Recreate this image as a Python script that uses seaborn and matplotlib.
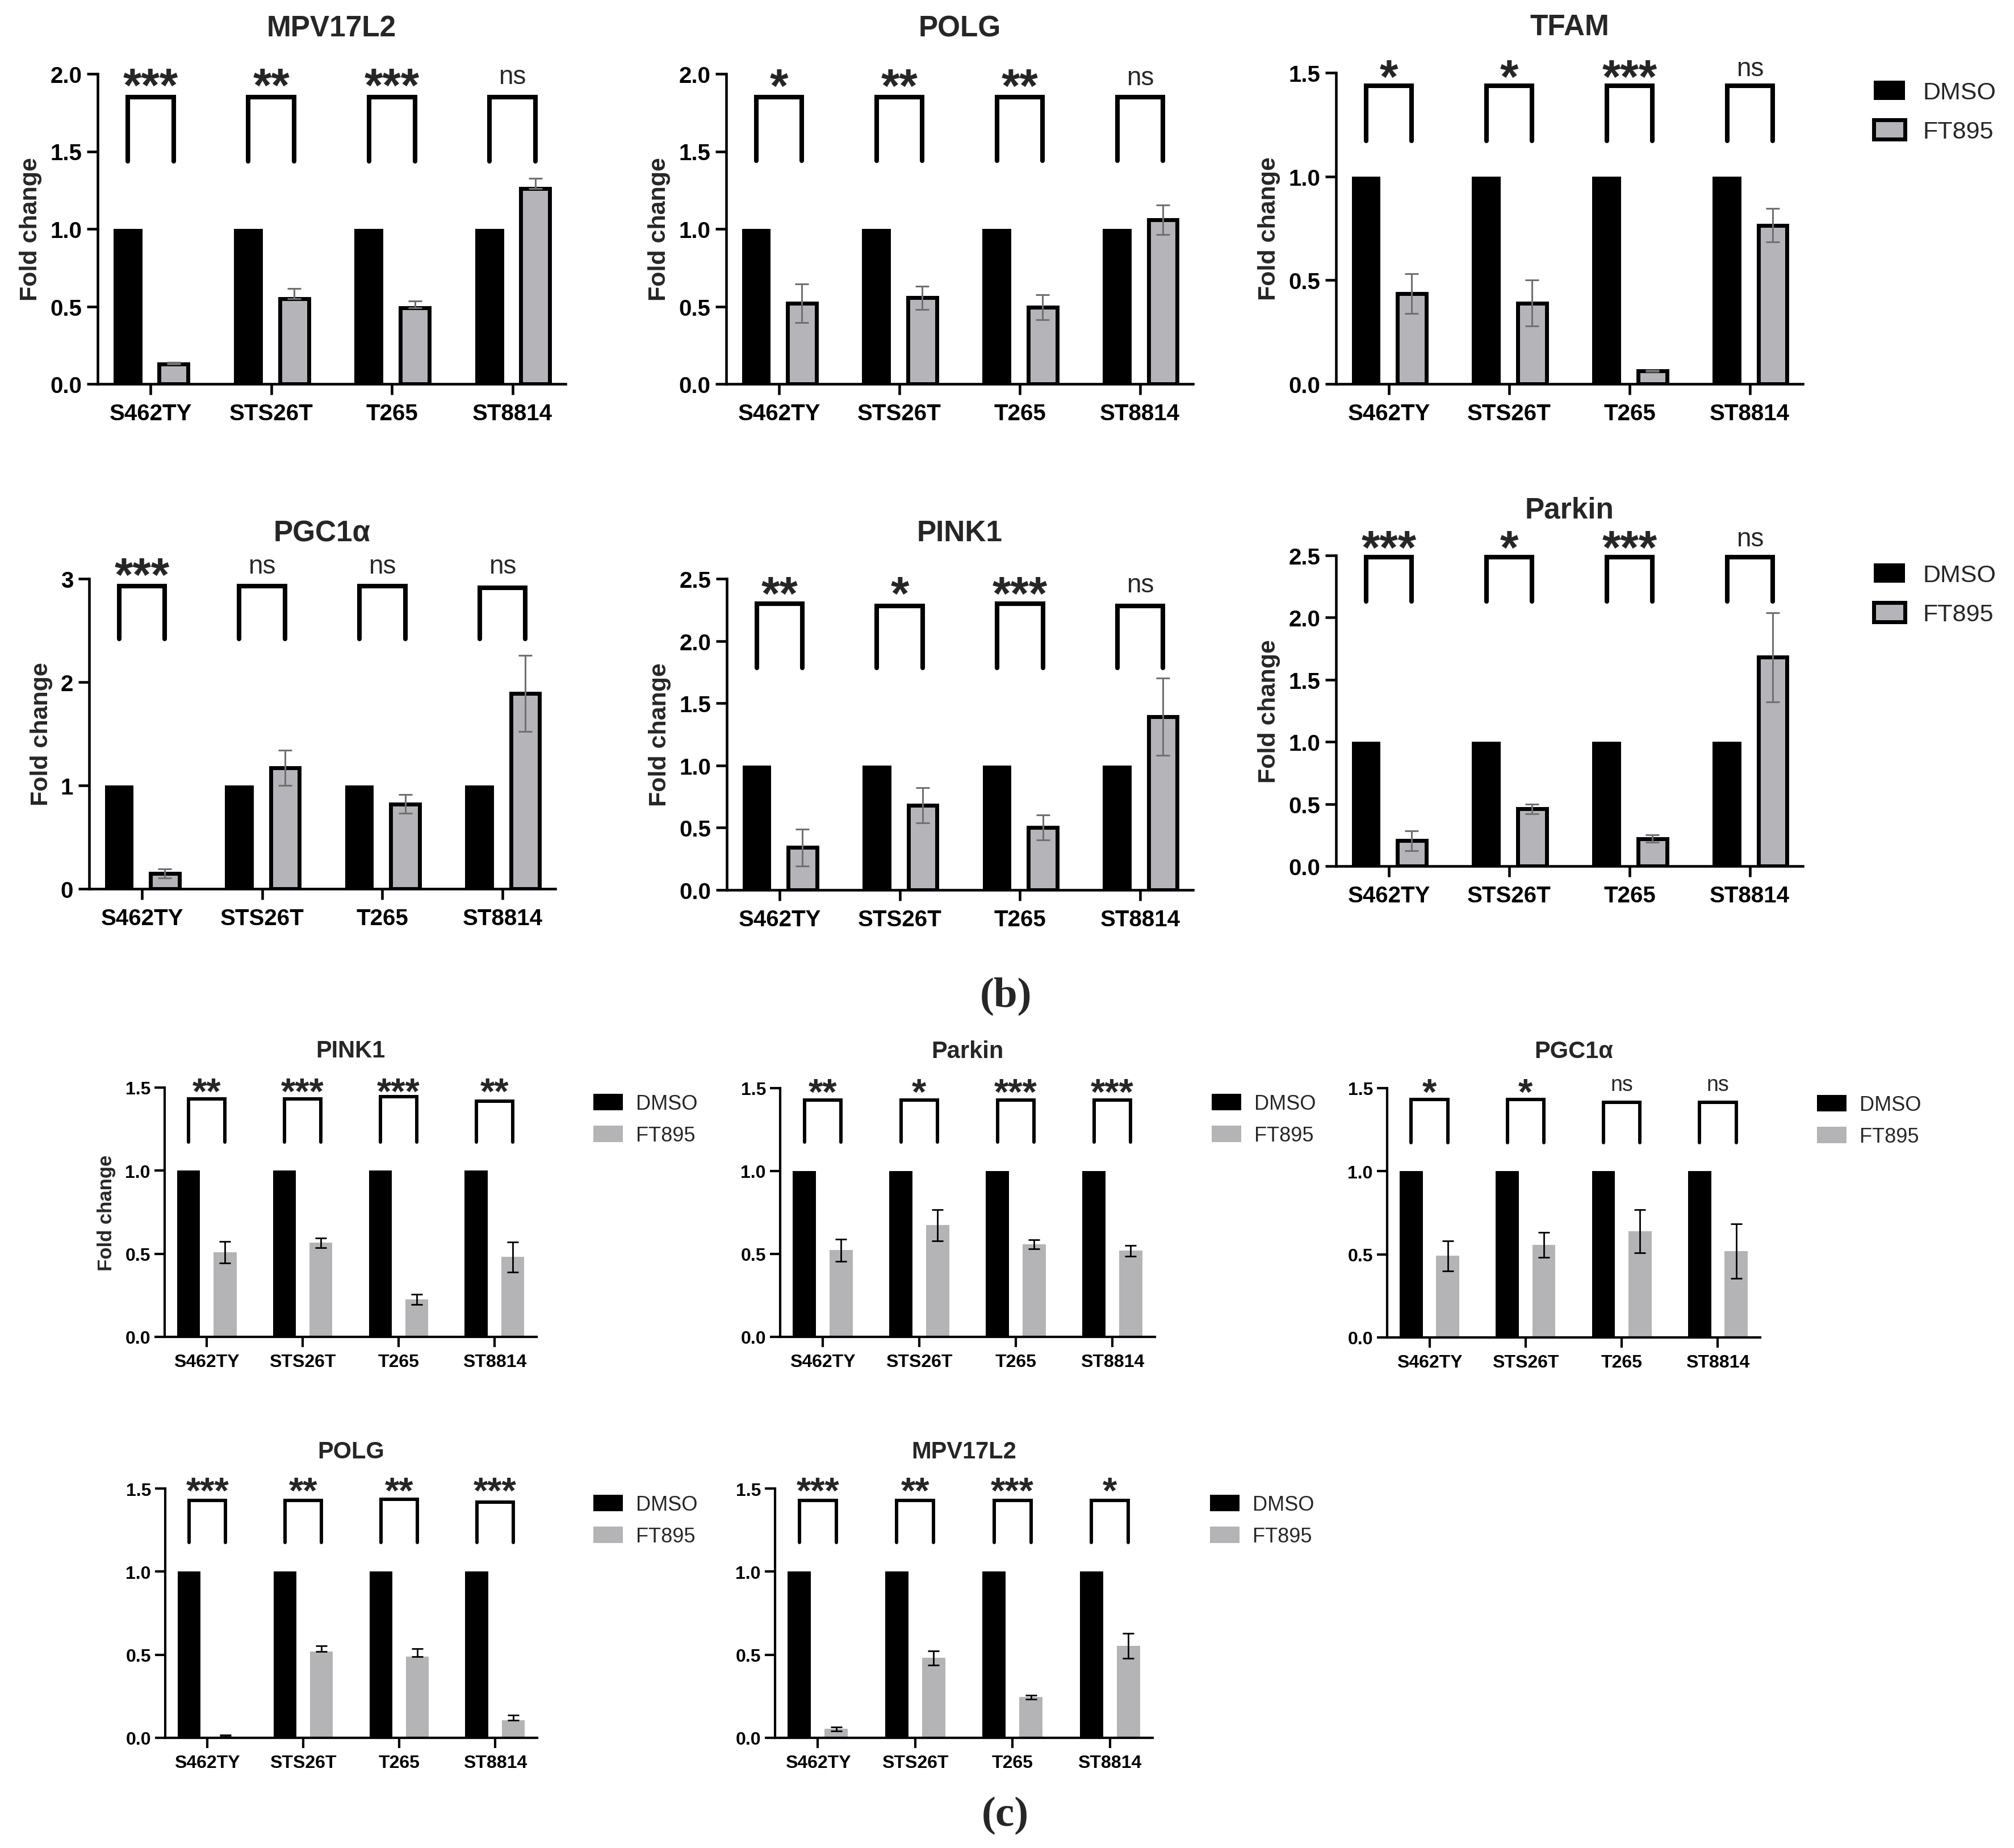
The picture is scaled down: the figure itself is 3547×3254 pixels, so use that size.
import numpy as np
import pandas as pd
import matplotlib
matplotlib.use("Agg")
import matplotlib.pyplot as plt
import matplotlib.transforms as mtransforms
from matplotlib.patches import Patch
import seaborn as sns

# ---------------- data ----------------
cells = ["S462TY", "STS26T", "T265", "ST8814"]
groups = ["DMSO", "FT895"]
dmso = [1.0, 1.0, 1.0, 1.0]

# panel (b)
b_mpv_ft = [0.13, 0.55, 0.49, 1.26]
b_mpv_lo = [0.0, 0.0, 0.0, 0.0]
b_mpv_hi = [0.01, 0.065, 0.045, 0.065]
b_mpv_sig = ["***", "**", "***", "ns"]

b_polg_ft = [0.52, 0.555, 0.495, 1.06]
b_polg_lo = [0.125, 0.075, 0.08, 0.095]
b_polg_hi = [0.125, 0.075, 0.08, 0.095]
b_polg_sig = ["*", "**", "**", "ns"]

b_tfam_ft = [0.435, 0.39, 0.063, 0.765]
b_tfam_lo = [0.095, 0.11, 0.004, 0.08]
b_tfam_hi = [0.095, 0.11, 0.004, 0.08]
b_tfam_sig = ["*", "*", "***", "ns"]

b_pgc_ft = [0.15, 1.17, 0.82, 1.89]
b_pgc_lo = [0.045, 0.17, 0.09, 0.37]
b_pgc_hi = [0.045, 0.17, 0.09, 0.37]
b_pgc_sig = ["***", "ns", "ns", "ns"]

b_pink_ft = [0.34, 0.68, 0.50, 1.39]
b_pink_lo = [0.15, 0.14, 0.10, 0.31]
b_pink_hi = [0.15, 0.14, 0.10, 0.31]
b_pink_sig = ["**", "*", "***", "ns"]

b_park_ft = [0.205, 0.46, 0.22, 1.68]
b_park_lo = [0.08, 0.04, 0.03, 0.36]
b_park_hi = [0.08, 0.04, 0.03, 0.36]
b_park_sig = ["***", "*", "***", "ns"]

# panel (c)
c_pink_ft = [0.508, 0.566, 0.226, 0.481]
c_pink_lo = [0.065, 0.03, 0.03, 0.09]
c_pink_hi = [0.065, 0.03, 0.03, 0.09]
c_pink_sig = ["**", "***", "***", "**"]

c_park_ft = [0.523, 0.673, 0.558, 0.52]
c_park_lo = [0.067, 0.095, 0.028, 0.033]
c_park_hi = [0.067, 0.095, 0.028, 0.033]
c_park_sig = ["**", "*", "***", "***"]

c_pgc_ft = [0.491, 0.557, 0.638, 0.519]
c_pgc_lo = [0.09, 0.075, 0.13, 0.165]
c_pgc_hi = [0.09, 0.075, 0.13, 0.165]
c_pgc_sig = ["*", "*", "ns", "ns"]

c_polg_ft = [0.008, 0.519, 0.49, 0.106]
c_polg_lo = [0.0, 0.0, 0.0, 0.0]
c_polg_hi = [0.009, 0.035, 0.045, 0.03]
c_polg_sig = ["***", "**", "**", "***"]

c_mpv_ft = [0.054, 0.481, 0.245, 0.552]
c_mpv_lo = [0.012, 0.043, 0.012, 0.075]
c_mpv_hi = [0.012, 0.043, 0.012, 0.075]
c_mpv_sig = ["***", "**", "***", "*"]

# ---------------- styling ----------------
W, H, DPI = 3548, 3255, 100
GRAY_B = "#b5b5b9"
GRAY_C = "#b4b4b7"

sns.set_theme(style="ticks")
plt.rcParams["font.family"] = ["Liberation Sans", "DejaVu Sans"]
plt.rcParams["axes.titleweight"] = "bold"

fig = plt.figure(figsize=(W / DPI, H / DPI), dpi=DPI)
fig.patch.set_facecolor("white")

STY = {
    "b": dict(gray=GRAY_B, tick_fs=29, title_fs=37, title_pad=48, ylab_fs=31, lab_pad=10,
              spine=3.3, tlen=14, tpad_x=10, tpad_y=6, edge=5, ecol="#707070", elw=2.2,
              cap=8.5, br_lw=5.8, star_fs=60, ns_fs=33, leg_fs=31, leg_hl=1.28, leg_hh=0.84,
              leg_tp=0.72, leg_ls=0.65),
    "c": dict(gray=GRAY_C, tick_fs=23, title_fs=30, title_pad=39, ylab_fs=25, lab_pad=12,
              spine=3.0, tlen=13, tpad_x=8, tpad_y=5, edge=0, ecol="black", elw=2.0,
              cap=7.2, br_lw=4.3, star_fs=47, ns_fs=27, leg_fs=26, leg_hl=1.44, leg_hh=0.83,
              leg_tp=0.64, leg_ls=0.58),
}

# layout: (title, ft, lo, hi, sig, ymax, ystep, style, ylabel, axes px (L, R, bottom, top),
#          bracket tops, bracket bottom, label y, legend)
panels = [
    ("MPV17L2", b_mpv_ft, b_mpv_lo, b_mpv_hi, b_mpv_sig, 2.0, 0.5, "b", True, (172, 996, 677, 131),
     [1.848] * 4, 1.435, 1.98, None),
    ("POLG", b_polg_ft, b_polg_lo, b_polg_hi, b_polg_sig, 2.0, 0.5, "b", True, (1279, 2101, 677, 131),
     [1.848] * 4, 1.438, 1.975, None),
    ("TFAM", b_tfam_ft, b_tfam_lo, b_tfam_hi, b_tfam_sig, 1.5, 0.5, "b", True, (2353, 3175, 677, 129),
     [1.437] * 4, 1.172, 1.52, (3300, 143)),
    ("PGC1α", b_pgc_ft, b_pgc_lo, b_pgc_hi, b_pgc_sig, 3.0, 1.0, "b", True, (157, 978, 1566, 1020),
     [2.93, 2.93, 2.93, 2.91], 2.42, 3.12, None),
    ("PINK1", b_pink_ft, b_pink_lo, b_pink_hi, b_pink_sig, 2.5, 0.5, "b", True, (1280, 2101, 1568, 1020),
     [2.30, 2.28, 2.30, 2.28], 1.785, 2.45, None),
    ("Parkin", b_park_ft, b_park_lo, b_park_hi, b_park_sig, 2.5, 0.5, "b", True, (2353, 3175, 1526, 979),
     [2.485] * 4, 2.13, 2.63, (3300, 993)),
    ("PINK1", c_pink_ft, c_pink_lo, c_pink_hi, c_pink_sig, 1.5, 0.5, "c", True, (290, 945, 2355, 1916),
     [1.43, 1.43, 1.444, 1.417], 1.172, 1.52, (1045, 1927)),
    ("Parkin", c_park_ft, c_park_lo, c_park_hi, c_park_sig, 1.5, 0.5, "c", False, (1374, 2034, 2355, 1917),
     [1.427] * 4, 1.174, 1.52, (2134, 1927)),
    ("PGC1α", c_pgc_ft, c_pgc_lo, c_pgc_hi, c_pgc_sig, 1.5, 0.5, "c", False, (2443, 3100, 2356, 1917),
     [1.431, 1.431, 1.416, 1.416], 1.172, 1.518, (3200, 1929)),
    ("POLG", c_polg_ft, c_polg_lo, c_polg_hi, c_polg_sig, 1.5, 0.5, "c", False, (291, 946, 3061, 2622),
     [1.427, 1.427, 1.436, 1.419], 1.174, 1.53, (1045, 2633)),
    ("MPV17L2", c_mpv_ft, c_mpv_lo, c_mpv_hi, c_mpv_sig, 1.5, 0.5, "c", False, (1365, 2030, 3061, 2622),
     [1.427] * 4, 1.174, 1.53, (2131, 2633)),
]

for (title, ft, lo, hi, sig, ymax, ystep, sty, has_ylab, (L, R, B, T),
     br_tops, br_bot, lab_y, leg) in panels:
    s = STY[sty]
    ax = fig.add_axes([L / W, 1 - B / H, (R - L) / W, (B - T) / H])
    df = pd.DataFrame({
        "cell": cells * 2,
        "treatment": [groups[0]] * 4 + [groups[1]] * 4,
        "fold": dmso + ft,
    })
    sns.barplot(data=df, x="cell", y="fold", hue="treatment", order=cells, hue_order=groups,
                palette={"DMSO": "black", "FT895": s["gray"]}, width=0.76, gap=0.37,
                errorbar=None, saturation=1, legend=False, ax=ax)
    dm_bars = ax.containers[0]
    ft_bars = ax.containers[1]
    for p in dm_bars:
        p.set_linewidth(0)
    for p in ft_bars:
        if s["edge"] > 0:
            p.set_edgecolor("black")
            p.set_linewidth(s["edge"])
        else:
            p.set_linewidth(0)
    xd = [p.get_x() + p.get_width() / 2 for p in dm_bars]
    xf = [p.get_x() + p.get_width() / 2 for p in ft_bars]
    ax.errorbar(xf, ft, yerr=[lo, hi], fmt="none", ecolor=s["ecol"], elinewidth=s["elw"],
                capsize=s["cap"], capthick=s["elw"], zorder=5)

    # significance brackets
    for i in range(len(cells)):
        ax.plot([xd[i], xd[i], xf[i], xf[i]], [br_bot, br_tops[i], br_tops[i], br_bot],
                color="black", lw=s["br_lw"], clip_on=False, solid_joinstyle="miter",
                solid_capstyle="round", zorder=6)
        xc = (xd[i] + xf[i]) / 2
        if sig[i] == "ns":
            tr = mtransforms.offset_copy(ax.transData, fig=fig, x=0, y=-0.26 * s["ns_fs"], units="points")
            ax.text(xc, lab_y, sig[i], transform=tr, ha="center", va="baseline",
                    fontsize=s["ns_fs"], fontweight="normal", clip_on=False)
        else:
            tr = mtransforms.offset_copy(ax.transData, fig=fig, x=0, y=-0.51 * s["star_fs"], units="points")
            ax.text(xc, lab_y, sig[i], transform=tr, ha="center", va="baseline",
                    fontsize=s["star_fs"], fontweight="bold", clip_on=False)

    # axes styling
    ax.set_xlim(-0.44, 3.44)
    ax.set_ylim(0, ymax)
    yt = np.arange(0, ymax + 1e-9, ystep)
    ax.set_yticks(yt)
    if ystep >= 1:
        ax.set_yticklabels([f"{v:.0f}" for v in yt])
    else:
        ax.set_yticklabels([f"{v:.1f}" for v in yt])
    ax.set_xlabel("")
    if has_ylab:
        ax.set_ylabel("Fold change", fontsize=s["ylab_fs"], fontweight="bold", labelpad=s["lab_pad"])
    else:
        ax.set_ylabel("")
    ax.set_title(title, fontsize=s["title_fs"], fontweight="bold", pad=s["title_pad"])
    sns.despine(ax=ax)
    for sp in ("left", "bottom"):
        ax.spines[sp].set_linewidth(s["spine"])
        ax.spines[sp].set_color("black")
    ax.tick_params(axis="both", direction="out", length=s["tlen"], width=s["spine"],
                   colors="black", labelsize=s["tick_fs"])
    ax.tick_params(axis="x", pad=s["tpad_x"])
    ax.tick_params(axis="y", pad=s["tpad_y"])
    for lab in ax.get_xticklabels() + ax.get_yticklabels():
        lab.set_fontweight("bold")
    ax.set_facecolor("white")

    if leg is not None:
        lx, ly = leg
        if sty == "b":
            handles = [Patch(facecolor="black", edgecolor="black", linewidth=0),
                       Patch(facecolor=s["gray"], edgecolor="black", linewidth=s["edge"])]
        else:
            handles = [Patch(facecolor="black", edgecolor="none", linewidth=0),
                       Patch(facecolor=s["gray"], edgecolor="none", linewidth=0)]
        ax.legend(handles, groups, loc="upper left", bbox_to_anchor=(lx / W, 1 - ly / H),
                  bbox_transform=fig.transFigure, frameon=False, borderpad=0, borderaxespad=0,
                  fontsize=s["leg_fs"], handlelength=s["leg_hl"], handleheight=s["leg_hh"],
                  handletextpad=s["leg_tp"], labelspacing=s["leg_ls"])

fig.text(1772 / W, 1 - 1754 / H, "(b)", ha="center", va="center", fontsize=54,
         family=["Liberation Serif", "DejaVu Serif"], fontweight="bold")
fig.text(1770 / W, 1 - 3197 / H, "(c)", ha="center", va="center", fontsize=54,
         family=["Liberation Serif", "DejaVu Serif"], fontweight="bold")

fig.savefig("out.png", dpi=DPI, facecolor="white")
